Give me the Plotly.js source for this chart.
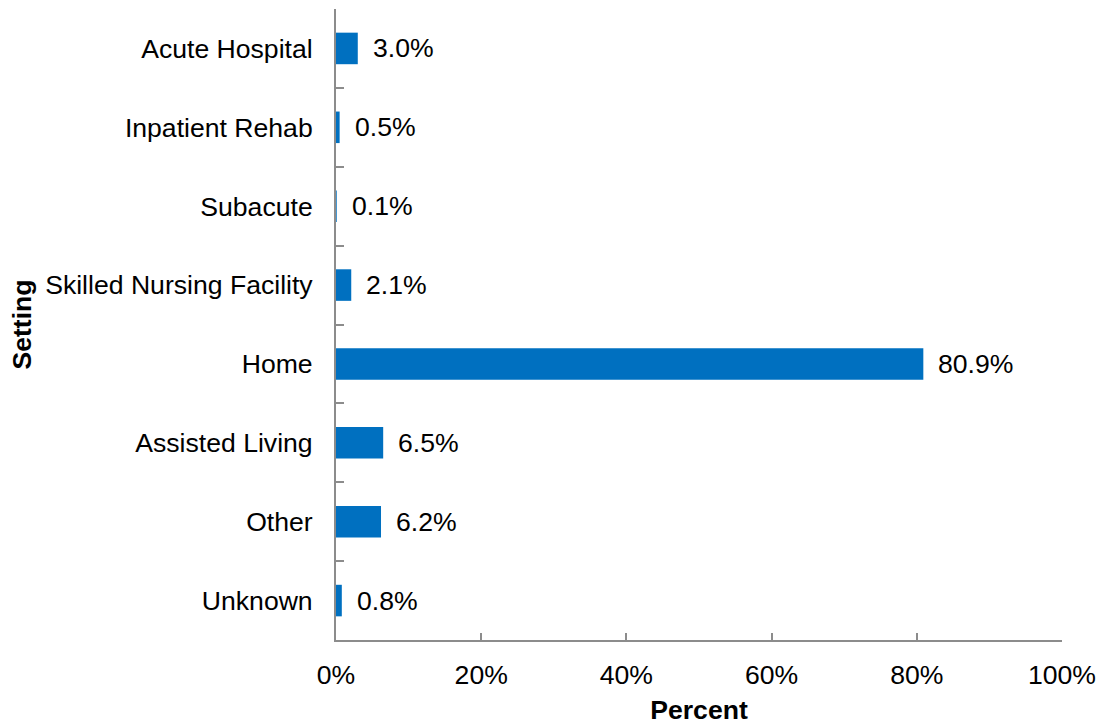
<!DOCTYPE html>
<html>
<head>
<meta charset="utf-8">
<script src="https://cdn.plot.ly/plotly-3.0.1.min.js"></script>
<style>html,body{margin:0;padding:0;background:#fff;}#chart{width:1104px;height:725px;}</style>
</head>
<body>
<div id="chart"></div>
<script>
const categories = ["Acute Hospital", "Inpatient Rehab", "Subacute", "Skilled Nursing Facility", "Home", "Assisted Living", "Other", "Unknown"];
const percentValues = [3.0, 0.5, 0.1, 2.1, 80.9, 6.5, 6.2, 0.8];
const xTickValues = [0, 20, 40, 60, 80, 100];
const xTickLabels = ["0%", "20%", "40%", "60%", "80%", "100%"];

const FONT = "Liberation Sans, Arial, sans-serif";
const FS = 26.6;
const AXIS_COLOR = "#8c8c8c";

const trace = {
  type: "bar",
  orientation: "h",
  x: percentValues,
  y: categories,
  width: 0.4,
  marker: {color: "#0070C0"},
  hoverinfo: "x+y"
};

const annotations = categories.map((c, i) => ({
  x: percentValues[i],
  y: c,
  xref: "x",
  yref: "y",
  text: percentValues[i].toFixed(1) + "%",
  showarrow: false,
  xanchor: "left",
  yanchor: "middle",
  xshift: 13,
  font: {family: FONT, size: FS, color: "#000"}
}));

const layout = {
  width: 1104,
  height: 725,
  margin: {l: 336, r: 42, t: 9, b: 85},
  paper_bgcolor: "#fff",
  plot_bgcolor: "#fff",
  showlegend: false,
  font: {family: FONT, size: FS, color: "#000"},
  xaxis: {
    range: [0, 100],
    tickmode: "array",
    tickvals: xTickValues,
    ticktext: xTickLabels,
    ticks: "inside",
    ticklen: 7,
    tickwidth: 2,
    tickcolor: AXIS_COLOR,
    showline: true,
    linecolor: AXIS_COLOR,
    linewidth: 2,
    showgrid: false,
    zeroline: false,
    ticklabelstandoff: 10,
    tickfont: {family: FONT, size: FS, color: "#000"},
    title: {text: "<b>Percent</b>", font: {family: FONT, size: FS, color: "#000"}, standoff: 14}
  },
  yaxis: {
    type: "category",
    autorange: "reversed",
    ticks: "inside",
    tickson: "boundaries",
    ticklen: 8,
    tickwidth: 2,
    tickcolor: AXIS_COLOR,
    showline: true,
    linecolor: AXIS_COLOR,
    linewidth: 2,
    showgrid: false,
    zeroline: false,
    ticklabelstandoff: 16,
    tickfont: {family: FONT, size: FS, color: "#000"},
    title: {text: "<b>Setting</b>", font: {family: FONT, size: FS, color: "#000"}, standoff: 6}
  },
  annotations: annotations
};

Plotly.newPlot("chart", [trace], layout, {displayModeBar: false, staticPlot: true});
</script>
</body>
</html>
